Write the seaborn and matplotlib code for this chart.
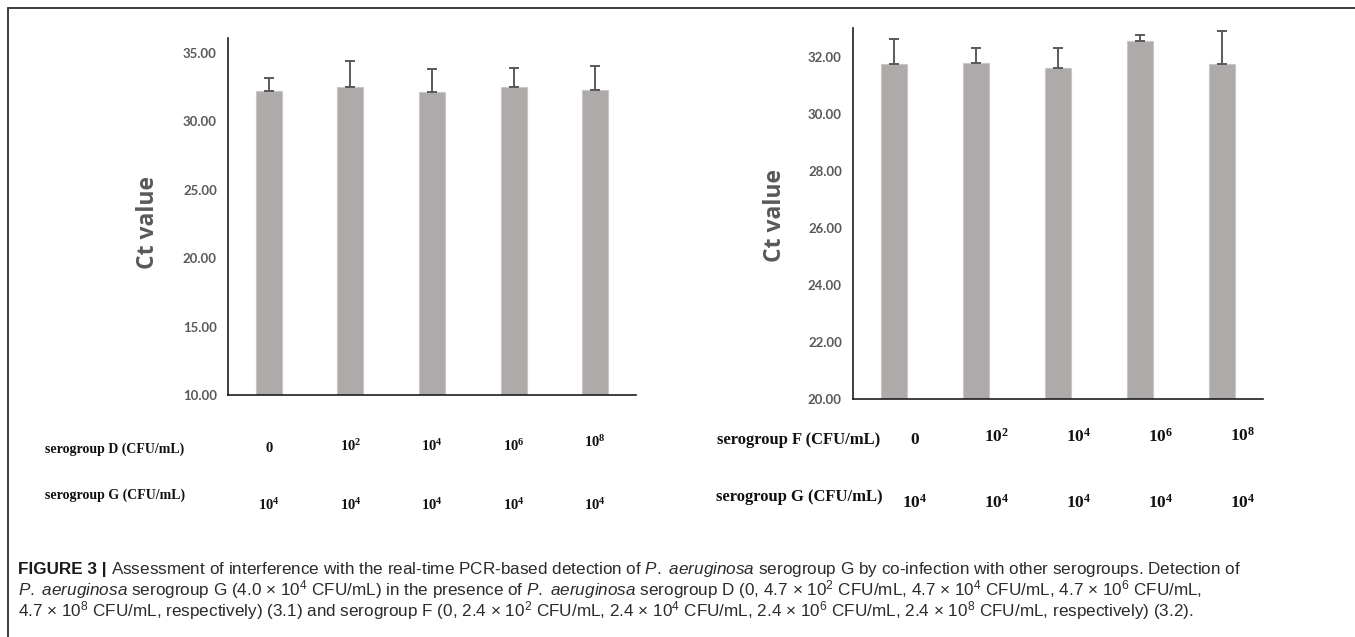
import matplotlib
matplotlib.use('Agg')
import matplotlib.pyplot as plt
import numpy as np
import pandas as pd
import seaborn as sns
from matplotlib import rcParams
from matplotlib.lines import Line2D
from matplotlib.transforms import blended_transform_factory

# values
conc_d = ['0', '10$^{2}$', '10$^{4}$', '10$^{6}$', '10$^{8}$']
conc_f = ['0', '10$^{2}$', '10$^{4}$', '10$^{6}$', '10$^{8}$']
conc_g = ['10$^{4}$'] * 5
ct_d = [32.22, 32.51, 32.17, 32.51, 32.30]
sd_d = [0.99, 1.92, 1.70, 1.41, 1.72]
ct_f = [31.75, 31.81, 31.62, 32.58, 31.75]
sd_f = [0.88, 0.52, 0.71, 0.19, 1.17]

W, H = 1355, 637
BAR = '#aeaaa9'
DARK = '#595959'

sns.set_style('white')
rcParams['font.family'] = ['Lato', 'DejaVu Sans']
rcParams['mathtext.fontset'] = 'custom'
rcParams['mathtext.default'] = 'regular'
rcParams['mathtext.it'] = 'Liberation Sans:italic'
rcParams['mathtext.rm'] = 'Liberation Sans'


def fx(px):
    return px / W


def fy(py):
    return 1 - py / H


fig = plt.figure(figsize=(W / 100, H / 100), dpi=100)
ax1 = fig.add_axes([fx(228), fy(395), fx(636 - 228), (395 - 38) / H])
ax2 = fig.add_axes([fx(853), fy(399), fx(1263 - 853), (399 - 28) / H])

panels = [
    (ax1, ct_d, sd_d, (10, 36.1), np.arange(10, 36, 5), 148, 222),
    (ax2, ct_f, sd_f, (20, 33.03), np.arange(20, 33, 2), 775, 215),
]
for ax, ct, sd, ylim, yticks, lab_x, lab_y in panels:
    df = pd.DataFrame({'sample': [str(i) for i in range(len(ct))], 'ct': ct})
    sns.barplot(data=df, x='sample', y='ct', ax=ax, color=BAR, width=0.32,
                edgecolor='#c9c6c5', linewidth=0.8, errorbar=None, saturation=1)
    xs = ax.get_xticks()
    ax.errorbar(xs, ct, yerr=[np.zeros(len(sd)), sd], fmt='none', ecolor=DARK,
                elinewidth=1.4, capsize=3.5, capthick=1.4, zorder=3)
    ax.set_ylim(*ylim)
    ax.set_xlim(-0.5, len(ct) - 0.5)
    ax.set_yticks(yticks)
    ax.set_yticklabels([f'{v:.2f}' for v in yticks], fontsize=9.5,
                       fontweight='bold', color=DARK)
    ax.set_xticks([])
    ax.set(xlabel=None, ylabel=None)
    ax.tick_params(axis='y', length=0, pad=8)
    sns.despine(ax=ax, top=True, right=True)
    for side in ['left', 'bottom']:
        ax.spines[side].set_color('#1e1e1e')
        ax.spines[side].set_linewidth(1.2)
    fig.text(fx(lab_x), fy(lab_y), 'Ct value', rotation=90, ha='center', va='center',
             fontsize=16.5, fontweight='bold', color=DARK, family=['Open Sans', 'DejaVu Sans'])

# table under each panel
serif = ['Liberation Serif', 'DejaVu Serif']
rows = [
    (ax1, 'serogroup D (CFU/mL)', conc_d, 45, 449, [449, 446, 446, 446, 442], 0.0, 10),
    (ax1, 'serogroup G (CFU/mL)', conc_g, 45, 495, [505] * 5, 0.0, 10),
    (ax2, 'serogroup F (CFU/mL)', conc_f, 717, 440, [440, 437, 437, 437, 436], 0.25, 12),
    (ax2, 'serogroup G (CFU/mL)', conc_g, 716, 497, [503] * 5, 0.25, 12),
]
for ax, label, vals, lx, ly, vys, shift, fs in rows:
    fig.text(fx(lx), fy(ly), label, ha='left', va='center', fontsize=fs,
             fontweight='bold', family=serif, color='#111111')
    trans = blended_transform_factory(ax.transData, fig.transFigure)
    for i, (v, vy) in enumerate(zip(vals, vys)):
        ax.text(i + shift, fy(vy), v, transform=trans, ha='center', va='center',
                fontsize=fs + 0.5, fontweight='bold', family=serif, color='#111111')

# frame around the figure
fig.add_artist(Line2D([fx(8), 1], [fy(8), fy(8)], color='#3c3c3c', lw=1.4,
                      transform=fig.transFigure))
fig.add_artist(Line2D([fx(8), fx(8)], [fy(8), 0], color='#3c3c3c', lw=1.4,
                      transform=fig.transFigure))

# caption
cap_font = ['Liberation Sans', 'DejaVu Sans']
cap_col = '#2b2b2b'
cap_fs = 12.3
pa = r'$\mathit{P.}$ $\mathit{aeruginosa}$'
line1 = ('Assessment of interference with the real-time PCR-based detection of ' + pa +
         ' serogroup G by co-infection with other serogroups. Detection of')
line2 = (pa + ' serogroup G (4.0 \u00d7 10$^{4}$ CFU/mL) in the presence of ' + pa +
         ' serogroup D (0, 4.7 \u00d7 10$^{2}$ CFU/mL, 4.7 \u00d7 10$^{4}$ CFU/mL, '
         '4.7 \u00d7 10$^{6}$ CFU/mL,')
line3 = ('4.7 \u00d7 10$^{8}$ CFU/mL, respectively) (3.1) and serogroup F (0, 2.4 \u00d7 10$^{2}$ CFU/mL, '
         '2.4 \u00d7 10$^{4}$ CFU/mL, 2.4 \u00d7 10$^{6}$ CFU/mL, 2.4 \u00d7 10$^{8}$ CFU/mL, '
         'respectively) (3.2).')

head = fig.text(fx(18), fy(574), 'FIGURE 3 |', ha='left', va='baseline', fontsize=cap_fs,
                fontweight='bold', family=cap_font, color='#1a1a1a')
fig.canvas.draw()
bb = head.get_window_extent()
fig.text(bb.x1 / W + fx(4), fy(574), line1, ha='left', va='baseline', fontsize=cap_fs,
         family=cap_font, color=cap_col)
fig.text(fx(18), fy(595), line2, ha='left', va='baseline', fontsize=cap_fs,
         family=cap_font, color=cap_col)
fig.text(fx(18), fy(616), line3, ha='left', va='baseline', fontsize=cap_fs,
         family=cap_font, color=cap_col)

fig.savefig('out.png', dpi=100)
